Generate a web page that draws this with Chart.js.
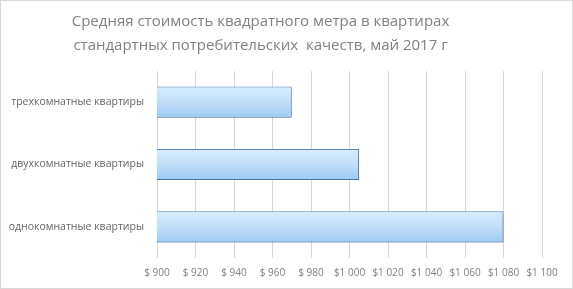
<!DOCTYPE html>
<html>
<head>
<meta charset="utf-8">
<script src="https://cdn.jsdelivr.net/npm/chart.js@4/dist/chart.umd.min.js"></script>
<style>
html,body{margin:0;padding:0;background:#fff;}
#wrap{position:relative;width:573px;height:289px;box-sizing:border-box;border:1px solid #d9d9d9;}
</style>
</head>
<body>
<div id="wrap"><canvas id="c" width="571" height="287"></canvas></div>
<script>
const categories = ['трехкомнатные квартиры', 'двухкомнатные квартиры', 'однокомнатные квартиры'];
const values = [970, 1005, 1080];
const xMin = 900, xMax = 1100, xStep = 20;
const titleLines = ['Средняя стоимость квадратного метра в квартирах', 'стандартных потребительских  качеств, май 2017 г'];

function fmt(v){
  if (v < 1000) return '$ ' + v;
  const s = String(v);
  return '$' + s.slice(0, s.length - 3) + ' ' + s.slice(-3);
}

const shadowPlugin = {
  id: 'shadow',
  afterLayout(chart){
    if (chart.titleBlock) { chart.titleBlock.left -= 11; chart.titleBlock.right -= 11; }
  },
  beforeDatasetsDraw(chart){
    const c = chart.ctx; c.save();
    c.shadowColor = 'rgba(0,0,0,0.25)'; c.shadowBlur = 3; c.shadowOffsetX = 1.5; c.shadowOffsetY = 1.5;
  },
  afterDatasetsDraw(chart){ chart.ctx.restore(); }
};

new Chart(document.getElementById('c'), {
  type: 'bar',
  data: {
    labels: categories,
    datasets: [{
      data: values,
      backgroundColor(ctx){
        const chart = ctx.chart; const ys = chart.scales && chart.scales.y;
        if (!ys || ctx.dataIndex === undefined || !chart.chartArea) return '#b8dbf8';
        const cy = ys.getPixelForValue(ctx.dataIndex);
        const h = (chart.chartArea.bottom - chart.chartArea.top) / categories.length * 0.5;
        const g = chart.ctx.createLinearGradient(0, cy - h/2, 0, cy + h/2);
        g.addColorStop(0, '#d8edfd');
        g.addColorStop(0.5, '#c0dff9');
        g.addColorStop(1, '#9ccaf4');
        return g;
      },
      borderColor: '#5b8dc4',
      borderWidth: 1,
      borderSkipped: false,
      barPercentage: 0.5,
      categoryPercentage: 1
    }]
  },
  options: {
    indexAxis: 'y',
    responsive: false,
    animation: false,
    layout: { padding: { left: 0, right: 30, top: 0, bottom: 0 } },
    plugins: {
      legend: { display: false },
      tooltip: { enabled: false },
      title: {
        display: true,
        text: titleLines,
        color: '#808080',
        font: { family: 'Open Sans', size: 15, weight: 'normal', lineHeight: 1.6 },
        padding: { top: 9, bottom: 13 }
      }
    },
    scales: {
      x: {
        min: xMin, max: xMax,
        ticks: { stepSize: xStep, color: '#7f7f7f', font: { family: 'Open Sans', size: 10 }, padding: 9, callback: v => fmt(v), maxRotation: 0, autoSkip: false },
        grid: { color: '#d9d9d9', drawTicks: false },
        border: { display: false }
      },
      y: {
        ticks: { color: '#666666', font: { family: 'Open Sans', size: 10.5 }, padding: 5 },
        grid: { display: false },
        border: { display: false },
        afterFit(axis){ axis.width = 156; }
      }
    }
  },
  plugins: [shadowPlugin]
});
</script>
</body>
</html>
